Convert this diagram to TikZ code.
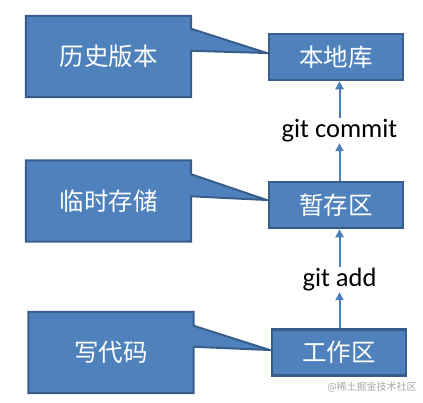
\documentclass[tikz,border=0pt]{standalone}
\usepackage{fontspec}
\setmainfont{Carlito}
\newfontfamily\cjk{Noto Sans CJK SC}
\usetikzlibrary{positioning, arrows.meta, calc, backgrounds}
\definecolor{boxblue}{HTML}{4F81BD}
\definecolor{boxedge}{HTML}{385D8A}
\definecolor{arrowblue}{HTML}{4A7EBB}
\definecolor{marktext}{HTML}{A8A8A8}

\begin{document}
\begin{tikzpicture}[x=1pt, y=-1pt,
  stagebox/.style={
    draw=boxedge, line width=2.5pt, fill=boxblue, minimum width=134pt,
    minimum height=46pt, inner sep=0pt, text=white,
    font=\cjk\fontsize{24.5}{28}\selectfont
  },
  notebox/.style={
    minimum width=165pt, minimum height=81pt, inner sep=0pt, text=white,
    font=\cjk\fontsize{24.5}{28}\selectfont
  },
  notefill/.style={draw=boxedge, line width=2pt, fill=boxblue},
  arrow/.style={-{Triangle[length=8pt, width=8pt]}, line width=2pt, arrowblue},
  cmd/.style={font=\fontsize{26.5}{30}\selectfont, inner sep=0pt, minimum height=25pt},
  wmark/.style={font=\cjk\fontsize{10}{12}\selectfont, text=marktext}
]
\useasboundingbox (0,0) rectangle (423,402);

\node[stagebox] (repo) at (336, 57) {本地库};
\node[stagebox] (stage) at (336, 205) {暂存区};
\node[stagebox] (work) at (339, 352.5) {工作区};

\node[cmd] (commit) at (339.5, 130.5) {git commit};
\node[cmd] (add) at (339.5, 279.5) {git add};

\node[notebox] (hist) at (108.5, 56.5) {历史版本};
\node[notebox] (temp) at (108.5, 201) {临时存储};
\node[notebox] (code) at (111, 352.5) {写代码};

\begin{scope}[on background layer]
\draw[notefill] (hist.north west) -- (hist.north east) -- ($(hist.north east)+(0,13)$)
  -- ($(repo.west)+(-1,-4)$) -- ($(hist.north east)+(0,35)$) -- (hist.south east)
  -- (hist.south west) -- cycle;
\draw[notefill] (temp.north west) -- (temp.north east) -- ($(temp.north east)+(0,14)$)
  -- ($(stage.west)+(-1,-5)$) -- ($(temp.north east)+(0,36)$) -- (temp.south east)
  -- (temp.south west) -- cycle;
\draw[notefill] (code.north west) -- (code.north east) -- ($(code.north east)+(0,14)$)
  -- ($(work.west)+(-1,-2.5)$) -- ($(code.north east)+(0,35)$) -- (code.south east)
  -- (code.south west) -- cycle;
\end{scope}

\draw[arrow] (add.south |- work.north) -- (add.south);
\draw[arrow] (add.north) -- (add.north |- stage.south);
\draw[arrow] (commit.south |- stage.north) -- (commit.south);
\draw[arrow] (commit.north) -- (commit.north |- repo.south);

\node[wmark] (credit) at (372, 387) {@稀土掘金技术社区};

\end{tikzpicture}
\end{document}
